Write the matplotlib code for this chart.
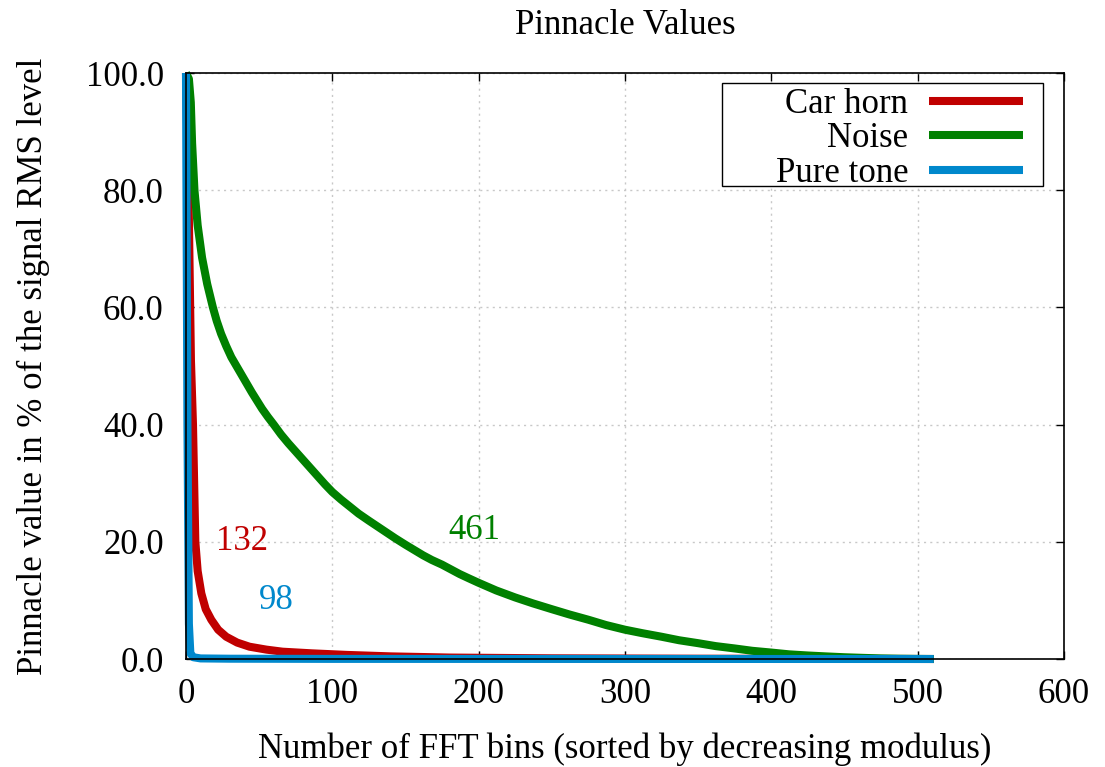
import matplotlib
matplotlib.use("Agg")
import matplotlib.pyplot as plt
from matplotlib.patches import Rectangle

plt.rcParams['font.family'] = ['Liberation Serif', 'DejaVu Serif']

# values (bin index, % of RMS)
horn_x = [0, 2, 3.4, 4.8, 5.6, 6.4, 8, 10.5, 13.5, 17.3, 22, 27.5, 35, 43.4, 55, 66, 86, 110, 140, 180, 250, 350, 511]
horn_y = [100, 75, 51, 40, 30, 20, 15, 11.2, 8.5, 6.7, 5.0, 3.8, 2.8, 2.1, 1.6, 1.25, 0.97, 0.7, 0.45, 0.25, 0.12, 0.05, 0]

noise_x = [0, 2, 3.3, 4.2, 5.8, 8, 11, 14.5, 18.4, 21, 24, 27.5, 31, 34.5, 38, 41.5, 45, 48.5, 52, 56, 60, 65, 70,
           75, 80, 85, 90, 95, 100, 106, 112, 118, 125, 131, 137, 143, 150, 156, 162, 168, 175, 181, 187, 193,
           200, 212, 225, 237, 250, 262, 275, 287, 300, 312, 325, 337, 350, 362, 375, 387, 400, 412, 425,
           437, 450, 462, 475, 487, 500, 511]
noise_y = [100, 99, 95, 88, 80, 74, 68.5, 64, 60, 57.7, 55.5, 53.4, 51.5, 50, 48.5, 47, 45.5, 44.1, 42.7, 41.3, 40,
           38.3, 36.8, 35.4, 34, 32.6, 31.2, 29.8, 28.5, 27.2, 26, 24.8, 23.6, 22.6, 21.6, 20.6, 19.5, 18.6,
           17.7, 16.9, 16.1, 15.3, 14.5, 13.8, 13, 11.7, 10.5, 9.5, 8.5, 7.6, 6.7, 5.8, 5.0, 4.4, 3.8, 3.2,
           2.7, 2.2, 1.8, 1.4, 1.1, 0.8, 0.6, 0.45, 0.3, 0.2, 0.1, 0.05, 0.02, 0]

tone_x = [0, 1, 2, 3, 5, 10, 30, 100, 511]
tone_y = [100, 40, 6, 1, 0.3, 0.1, 0.05, 0.02, 0]

labels = ["Car horn", "Noise", "Pure tone"]
counts = ["132", "461", "98"]
count_pos = [(38.5, 20), (197, 22), (62, 10)]
colors = ["#c00000", "#008000", "#0088cc"]

fig = plt.figure(figsize=(11.05, 7.67), dpi=100)
ax = fig.add_axes([0.1683, 0.1408, 0.7946, 0.764])

for xs, ys, lab, c in zip([horn_x, noise_x, tone_x], [horn_y, noise_y, tone_y], labels, colors):
    ax.plot(xs, ys, color=c, lw=5.8, label=lab, clip_on=False, solid_capstyle='butt',
            solid_joinstyle='round')

for txt, (px, py), c in zip(counts, count_pos, colors):
    ax.text(px, py, txt, color=c, fontsize=25, ha='center', va='center')

ax.set_xlim(0, 600)
ax.set_ylim(0, 100)
ax.set_xticks(range(0, 601, 100))
ax.set_yticks(range(0, 101, 20))
ax.set_yticklabels(["%.1f" % v for v in range(0, 101, 20)])
ax.tick_params(direction='in', length=6, width=1, labelsize=25, top=True, right=True)
ax.tick_params(axis='x', pad=14)
ax.tick_params(axis='y', pad=16)
ax.grid(True, color='#c8c8c8', linestyle=(0, (1.5, 3)), lw=1)
for s in ax.spines.values():
    s.set_linewidth(1.2)

ax.set_title("Pinnacle Values", fontsize=25, pad=28)
ax.set_xlabel("Number of FFT bins (sorted by decreasing modulus)", fontsize=25, labelpad=15)
ax.set_ylabel("Pinnacle value in % of the signal RMS level", fontsize=25, labelpad=26)

leg = ax.legend(loc='upper right', bbox_to_anchor=(0.953, 0.975), markerfirst=False,
                fontsize=25, frameon=False,
                handlelength=2.7, labelspacing=0.05, borderpad=0, handletextpad=0.6,
                borderaxespad=0)
ax.add_patch(Rectangle((0.6105, 0.807), 0.3655, 0.176, transform=ax.transAxes,
                       fill=True, facecolor='white', edgecolor='black', lw=1.0, zorder=4))
leg.set_zorder(5)

fig.savefig("out.png", dpi=100)
